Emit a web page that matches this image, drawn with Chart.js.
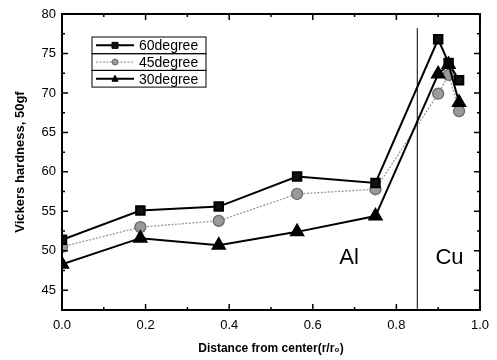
<!DOCTYPE html>
<html>
<head>
<meta charset="utf-8">
<script src="https://cdn.jsdelivr.net/npm/chart.js@4"></script>
<style>
  html, body { margin: 0; padding: 0; background: #fff; }
  #wrap { width: 497px; height: 360px; }
</style>
</head>
<body>
<div id="wrap"><canvas id="hardness" width="497" height="360"></canvas></div>
<script>
// distance from center (r/r0)
const xAl = [0, 0.1875, 0.375, 0.5625, 0.75];
const xCu = [0.9, 0.925, 0.95];

// Vickers hardness values
const deg60 = [51.4, 55.1, 55.6, 59.4, 58.6, 76.8, 73.8, 71.6];
const deg45 = [50.5, 53.0, 53.8, 57.2, 57.8, 69.9, 72.3, 67.7];
const deg30 = [48.3, 51.6, 50.7, 52.4, 54.4, 72.4, 73.6, 68.8];

const seriesNames = ['60degree', '45degree', '30degree'];
const yTicks = [45, 50, 55, 60, 65, 70, 75, 80];
const boundaryX = 0.85;

const xAll = xAl.concat(xCu);
const toPoints = vals => vals.map((v, i) => ({ x: xAll[i], y: v }));

// frame, inward ticks, Al/Cu boundary and region labels
const framePlugin = {
    id: 'frame',
    afterDatasetsDraw(chart) {
        const { ctx, chartArea: a, scales } = chart;
        const xs = scales.x, ys = scales.y;
        ctx.save();
        ctx.strokeStyle = '#000';

        // boundary line
        const bx = xs.getPixelForValue(boundaryX);
        ctx.lineWidth = 1;
        ctx.beginPath();
        ctx.moveTo(bx, ys.getPixelForValue(78.2));
        ctx.lineTo(bx, a.bottom);
        ctx.stroke();

        // ticks
        ctx.lineWidth = 1.5;
        for (let v = 0; v <= 1.0001; v += 0.1) {
            const px = xs.getPixelForValue(v);
            const major = Math.round(v * 10) % 2 === 0;
            const len = major ? 6 : 3;
            ctx.beginPath();
            ctx.moveTo(px, a.bottom);
            ctx.lineTo(px, a.bottom - len);
            ctx.moveTo(px, a.top);
            ctx.lineTo(px, a.top + len);
            ctx.stroke();
        }
        for (let v = 42.5; v <= 80; v += 2.5) {
            const py = ys.getPixelForValue(v);
            const major = v % 5 === 0;
            const len = major ? 6 : 3;
            ctx.beginPath();
            ctx.moveTo(a.left, py);
            ctx.lineTo(a.left + len, py);
            ctx.moveTo(a.right, py);
            ctx.lineTo(a.right - len, py);
            ctx.stroke();
        }

        // frame
        ctx.lineWidth = 2;
        ctx.strokeRect(a.left, a.top, a.right - a.left, a.bottom - a.top);

        // region labels
        ctx.fillStyle = '#000';
        ctx.font = '22px "Liberation Sans", Arial, sans-serif';
        ctx.textAlign = 'center';
        ctx.textBaseline = 'middle';
        ctx.fillText('Al', xs.getPixelForValue(0.687), ys.getPixelForValue(49.1));
        ctx.fillText('Cu', xs.getPixelForValue(0.927), ys.getPixelForValue(49.1));

        // legend box
        const lx = a.left + 30, ly = a.top + 23, rowH = 16.7, w = 114;
        ctx.font = '14px "Liberation Sans", Arial, sans-serif';
        ctx.textAlign = 'left';
        chart.data.datasets.forEach((ds, i) => {
            const top = ly + i * rowH;
            ctx.lineWidth = 1;
            ctx.strokeStyle = '#000';
            ctx.strokeRect(lx, top, w, rowH);
            const cy = top + rowH / 2;
            ctx.strokeStyle = ds.borderColor;
            ctx.lineWidth = ds.borderWidth;
            ctx.setLineDash(ds.borderDash || []);
            ctx.beginPath();
            ctx.moveTo(lx + 4, cy);
            ctx.lineTo(lx + 42, cy);
            ctx.stroke();
            ctx.setLineDash([]);
            ctx.fillStyle = ds.pointBackgroundColor;
            ctx.strokeStyle = ds.pointBorderColor;
            ctx.lineWidth = 1;
            const mx = lx + 23, r = 3;
            ctx.beginPath();
            if (ds.pointStyle === 'rect') {
                ctx.rect(mx - r, cy - r, 2 * r, 2 * r);
            } else if (ds.pointStyle === 'triangle') {
                ctx.moveTo(mx, cy - r - 0.5);
                ctx.lineTo(mx + r, cy + r - 0.5);
                ctx.lineTo(mx - r, cy + r - 0.5);
                ctx.closePath();
            } else {
                ctx.arc(mx, cy, r, 0, Math.PI * 2);
            }
            ctx.fill();
            ctx.stroke();
            ctx.fillStyle = '#000';
            ctx.fillText(ds.label, lx + 47, cy + 1);
        });
        ctx.restore();
    }
};

new Chart(document.getElementById('hardness'), {
    type: 'scatter',
    data: {
        datasets: [
            {
                label: seriesNames[0],
                data: toPoints(deg60),
                showLine: true,
                borderColor: '#000',
                borderWidth: 2,
                pointStyle: 'rect',
                pointRadius: 6,
                pointBackgroundColor: '#111',
                pointBorderColor: '#000',
                order: 1
            },
            {
                label: seriesNames[1],
                data: toPoints(deg45),
                showLine: true,
                borderColor: '#999',
                borderWidth: 1.3,
                borderDash: [2, 1.5],
                pointStyle: 'circle',
                pointRadius: 5.5,
                pointBackgroundColor: '#9a9a9a',
                pointBorderColor: '#6a6a6a',
                order: 2
            },
            {
                label: seriesNames[2],
                data: toPoints(deg30),
                showLine: true,
                borderColor: '#000',
                borderWidth: 2,
                pointStyle: 'triangle',
                pointRadius: 7,
                pointBackgroundColor: '#000',
                pointBorderColor: '#000',
                order: 0
            }
        ]
    },
    options: {
        responsive: false,
        animation: false,
        layout: { padding: { top: 14, right: 15, left: 0, bottom: 0 } },
        plugins: {
            legend: { display: false },
            tooltip: { enabled: false }
        },
        scales: {
            x: {
                type: 'linear',
                min: 0,
                max: 1,
                grid: { display: false, drawTicks: false },
                border: { display: false },
                ticks: {
                    stepSize: 0.2,
                    padding: 8,
                    color: '#000',
                    font: { size: 13, family: '"Liberation Sans", Arial, sans-serif' },
                    callback: v => v.toFixed(1)
                },
                title: {
                    display: true,
                    text: 'Distance from center(r/r\u2080)',
                    color: '#000',
                    padding: { top: 6 },
                    font: { size: 12, weight: 'bold', family: '"Liberation Sans", Arial, sans-serif' }
                },
                afterFit(scale) { scale.height = 50; }
            },
            y: {
                min: 42.5,
                max: 80,
                grid: { display: false, drawTicks: false },
                border: { display: false },
                afterBuildTicks(scale) {
                    scale.ticks = yTicks.map(v => ({ value: v }));
                },
                ticks: {
                    padding: 6,
                    color: '#000',
                    font: { size: 13, family: '"Liberation Sans", Arial, sans-serif' }
                },
                title: {
                    display: true,
                    text: 'Vickers hardness, 50gf',
                    color: '#000',
                    padding: { top: 13, bottom: 0 },
                    font: { size: 13, weight: 'bold', family: '"Liberation Sans", Arial, sans-serif' }
                },
                afterFit(scale) { scale.width = 62; }
            }
        }
    },
    plugins: [framePlugin]
});
</script>
</body>
</html>
